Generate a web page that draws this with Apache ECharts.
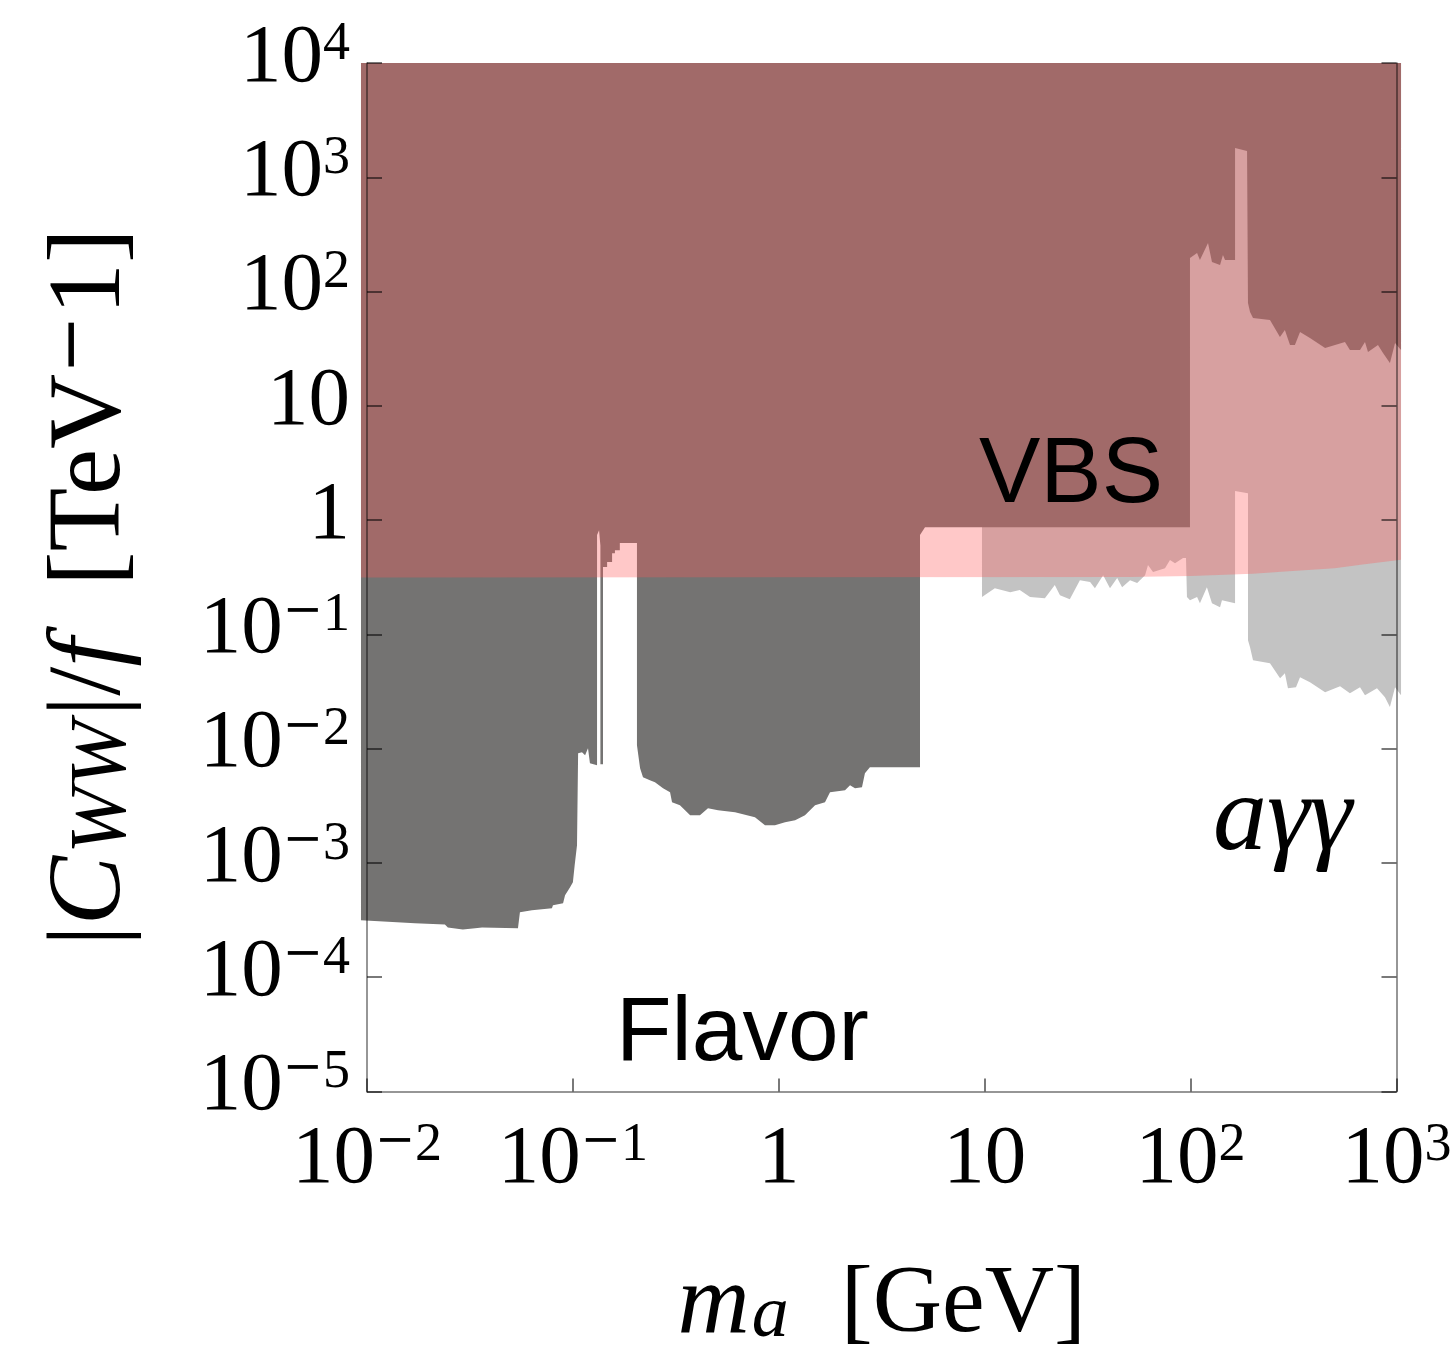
<!DOCTYPE html>
<html>
<head>
<meta charset="utf-8">
<script src="https://cdn.jsdelivr.net/npm/echarts@6.0.0/dist/echarts.min.js"></script>
<style>
html, body { margin: 0; padding: 0; background: #fff; }
#chart { width: 1456px; height: 1358px; }
</style>
</head>
<body>
<div id="chart"></div>
<script>
// tick labels, "^" marks the exponent
var xTickText = ['10^−2', '10^−1', '1', '10', '10^2', '10^3'];   // 1e-2 .. 1e3
var yTickText = ['10^−5', '10^−4', '10^−3', '10^−2', '10^−1', '1', '10', '10^2', '10^3', '10^4']; // 1e-5 .. 1e4
var yTop = 1e4;

// VBS: excluded above this curve  [m_a GeV, |Cww|/f TeV^-1]
var vbsEdge = [[0.00935, 0.315], [50, 0.318], [100, 0.325], [200, 0.34], [300, 0.356],
    [500, 0.38], [700, 0.41], [1052, 0.45]];

// Flavor (and everything above the a-gamma-gamma band): excluded above this edge
var darkEdge = [[0.00935, 3.15e-4], [0.0171, 2.96e-4], [0.0239, 2.90e-4], [0.0247, 2.73e-4],
    [0.0292, 2.62e-4], [0.0335, 2.68e-4], [0.0362, 2.73e-4], [0.0541, 2.68e-4], [0.0553, 3.70e-4],
    [0.0632, 3.85e-4], [0.0791, 4.01e-4], [0.080, 4.26e-4], [0.0896, 4.43e-4], [0.0916, 5.21e-4],
    [0.0969, 6.12e-4], [0.100, 6.77e-4], [0.102, 9.54e-4], [0.1047, 1.43e-3], [0.106, 9.12e-3],
    [0.1107, 9.31e-3], [0.1146, 8.77e-3], [0.1184, 1.01e-2], [0.121, 7.46e-3], [0.131, 7.16e-3],
    [0.131, 0.74], [0.134, 0.817], [0.136, 0.60], [0.136, 7.3e-3], [0.140, 7.3e-3], [0.140, 0.388],
    [0.1466, 0.388], [0.1466, 0.429], [0.155, 0.429], [0.155, 0.514], [0.160, 0.514], [0.160, 0.546],
    [0.169, 0.546], [0.169, 0.629], [0.2047, 0.629], [0.2047, 0.01072], [0.212, 6.74e-3],
    [0.219, 5.62e-3], [0.2366, 5.29e-3], [0.2504, 5.08e-3], [0.274, 4.51e-3], [0.2964, 4.16e-3],
    [0.303, 3.40e-3], [0.331, 3.20e-3], [0.371, 2.61e-3], [0.414, 2.61e-3], [0.453, 3.01e-3],
    [0.507, 2.89e-3], [0.613, 2.78e-3], [0.766, 2.51e-3], [0.857, 2.14e-3], [0.958, 2.14e-3],
    [1.072, 2.27e-3], [1.20, 2.36e-3], [1.34, 2.61e-3], [1.50, 3.20e-3], [1.676, 3.40e-3],
    [1.773, 4.16e-3], [2.097, 4.33e-3], [2.218, 4.79e-3], [2.345, 4.51e-3], [2.535, 4.60e-3],
    [2.62, 6.10e-3], [2.77, 6.88e-3], [4.85, 6.88e-3], [4.85, 0.739], [5.13, 0.868], [99.3, 0.868],
    [99.3, 197], [107.5, 218], [111, 189], [121.5, 266], [127, 181], [139, 171], [143.6, 209],
    [147, 189], [164.4, 189], [164.4, 1806], [188, 1701], [190, 79.4], [194.4, 66.2], [201, 58.7],
    [243, 56.4], [271.6, 40.0], [287, 46.0], [304, 34.0], [321, 34.0], [340, 44.3], [380, 39.2],
    [450, 32.0], [503, 34.0], [562, 36.2], [594, 30.8], [665, 30.8], [703, 36.2], [727, 29.6],
    [813, 34.0], [860, 29.0], [929, 23.7], [984, 35.5], [1052, 30.8]];

// a gamma gamma: excluded above this edge
var photonEdge = [[9.70, 0.212], [11.2, 0.254], [13.3, 0.234], [14.8, 0.244], [16.6, 0.212],
    [19.6, 0.2075], [21.9, 0.270], [23.2, 0.220], [25.9, 0.203], [29.0, 0.298], [32.5, 0.287],
    [34.3, 0.254], [37.6, 0.330], [40.6, 0.254], [44.0, 0.311], [46.5, 0.259], [50.8, 0.298],
    [55.0, 0.281], [60.1, 0.330], [62.1, 0.404], [65.7, 0.351], [75.1, 0.380], [79.4, 0.447],
    [84.0, 0.420], [91.9, 0.465], [95.0, 0.465], [96.0, 0.212], [99.3, 0.1993], [107.5, 0.212],
    [111, 0.1876], [120, 0.259], [127, 0.1876], [139, 0.173], [142, 0.1993], [164.4, 0.1876],
    [164.4, 1.795], [190, 1.72], [190, 0.089], [194.4, 0.0773], [201, 0.0595], [243, 0.056],
    [272, 0.0414], [287, 0.0458], [297, 0.0338], [325, 0.0345], [340, 0.0422], [380, 0.0382],
    [450, 0.0312], [532, 0.0352], [594, 0.0306], [665, 0.0345], [703, 0.0294], [804, 0.0338],
    [879, 0.0282], [929, 0.0231], [984, 0.0345], [1052, 0.0294]];

var serif = 'Liberation Serif';
var minusFont = 'DejaVu Serif';

function tickFormatter(list, firstExp) {
    return function (v) {
        var t = list[Math.round(Math.log10(v)) - firstExp];
        if (!t) return '';
        var p = t.split('^');
        var s = '{b|' + p[0] + '}';
        if (p[1]) {
            if (p[1].charAt(0) === '−') {
                s += '{m|−}{s|' + p[1].slice(1) + '}';
            } else {
                s += '{s|' + p[1] + '}';
            }
        }
        return s;
    };
}

var tickRich = {
    b: { fontFamily: serif, fontSize: 83, lineHeight: 83, color: '#000' },
    s: { fontFamily: serif, fontSize: 54, lineHeight: 29, verticalAlign: 'top', color: '#000' },
    m: { fontFamily: minusFont, fontSize: 48, lineHeight: 29, verticalAlign: 'top', color: '#000' }
};

var nameRich = {
    n: { fontFamily: serif, fontSize: 104, lineHeight: 104, color: '#000' },
    i: { fontFamily: serif, fontStyle: 'italic', fontSize: 104, lineHeight: 104, color: '#000' },
    sb: { fontFamily: serif, fontStyle: 'italic', fontSize: 80, lineHeight: 60, verticalAlign: 'bottom', color: '#000', padding: [0, 4, 0, 2] },
    sp: { fontFamily: minusFont, fontSize: 70, lineHeight: 40, verticalAlign: 'top', color: '#000' },
    g: { fontSize: 10, lineHeight: 10, width: 20 }
};

var xNameRich = {
    n: { fontFamily: serif, fontSize: 96, lineHeight: 96, color: '#000' },
    i: { fontFamily: serif, fontStyle: 'italic', fontSize: 100, lineHeight: 96, color: '#000' },
    sb: { fontFamily: serif, fontStyle: 'italic', fontSize: 74, lineHeight: 56, verticalAlign: 'bottom', color: '#000', padding: [0, 4, 0, 2] }
};

function region(edge, fill) {
    var pts = edge.concat([[edge[edge.length - 1][0], yTop], [edge[0][0], yTop]]);
    return {
        type: 'custom',
        coordinateSystem: 'cartesian2d',
        silent: true,
        clip: false,
        data: [[1, 1]],
        renderItem: function (params, api) {
            return {
                type: 'polygon',
                shape: { points: pts.map(function (p) { return api.coord(p); }) },
                style: { fill: fill }
            };
        }
    };
}

var axisColor = 'rgba(0,0,0,0.55)';

function yAxisBase(pos) {
    return {
        type: 'log',
        logBase: 10,
        min: 1e-5,
        max: 1e4,
        splitNumber: 9,
        position: pos,
        z: 10,
        axisLine: { show: true, lineStyle: { color: axisColor, width: 1.5 } },
        axisTick: { show: true, inside: true, length: 15, lineStyle: { color: 'rgba(0,0,0,0.7)', width: 1.5 } },
        minorTick: { show: false },
        splitLine: { show: false },
        minorSplitLine: { show: false }
    };
}

var yLeft = yAxisBase('left');
yLeft.axisLabel = {
    margin: 17,
    padding: [0, 0, 8, 0],
    showMinLabel: true,
    showMaxLabel: true,
    formatter: tickFormatter(yTickText, -5),
    rich: tickRich
};
yLeft.name = '{n||}{i|C}{sb|WW}{n||/}{i|f}{n|  [TeV}{sp|−}{n|1]}{g| }';
yLeft.nameLocation = 'middle';
yLeft.nameRotate = 90;
yLeft.nameGap = 223;
yLeft.nameTextStyle = { fontFamily: serif, fontSize: 104, lineHeight: 104, color: '#000', rich: nameRich };

var yRight = yAxisBase('right');
yRight.axisLabel = { show: false };

var dom = document.getElementById('chart');
var myChart = echarts.init(dom, null, { renderer: 'canvas' });

var option = {
    animation: false,
    backgroundColor: '#fff',
    grid: { left: 367, top: 63, right: 59.5, bottom: 266.5, containLabel: false, outerBoundsMode: 'none' },
    xAxis: {
        type: 'log',
        logBase: 10,
        min: 0.01,
        max: 1000,
        splitNumber: 5,
        z: 10,
        axisLine: { show: true, lineStyle: { color: axisColor, width: 1.5 } },
        axisTick: { show: true, inside: true, length: 13, lineStyle: { color: 'rgba(0,0,0,0.7)', width: 1.5 } },
        minorTick: { show: false },
        splitLine: { show: false },
        minorSplitLine: { show: false },
        axisLabel: {
            margin: 27,
            showMinLabel: true,
            showMaxLabel: true,
            formatter: tickFormatter(xTickText, -2),
            rich: tickRich
        },
        name: '{i|m}{sb|a}{n|  [GeV]}',
        nameLocation: 'middle',
        nameGap: 166,
        nameTextStyle: { fontFamily: serif, fontSize: 96, lineHeight: 96, color: '#000', rich: xNameRich }
    },
    yAxis: [yLeft, yRight],
    series: [
        region(photonEdge, '#c3c3c3'),
        region(darkEdge, '#747372'),
        region(vbsEdge, 'rgba(255,88,88,0.33)')
    ],
    graphic: [
        { type: 'text', z: 20, x: 979, y: 477,
          style: { text: 'VBS', fill: '#000', font: '92px "Liberation Sans"', textAlign: 'left', textVerticalAlign: 'middle' } },
        { type: 'text', z: 20, x: 616, y: 1035,
          style: { text: 'Flavor', fill: '#000', font: '91px "Liberation Sans"', textAlign: 'left', textVerticalAlign: 'middle' } },
        { type: 'text', z: 20, x: 1213, y: 821,
          style: { text: 'aγγ', fill: '#000', font: 'italic 108px "Liberation Serif"', textAlign: 'left', textVerticalAlign: 'middle' } }
    ]
};

myChart.setOption(option);
window.addEventListener('resize', function () {
    myChart.resize();
});
</script>
</body>
</html>
